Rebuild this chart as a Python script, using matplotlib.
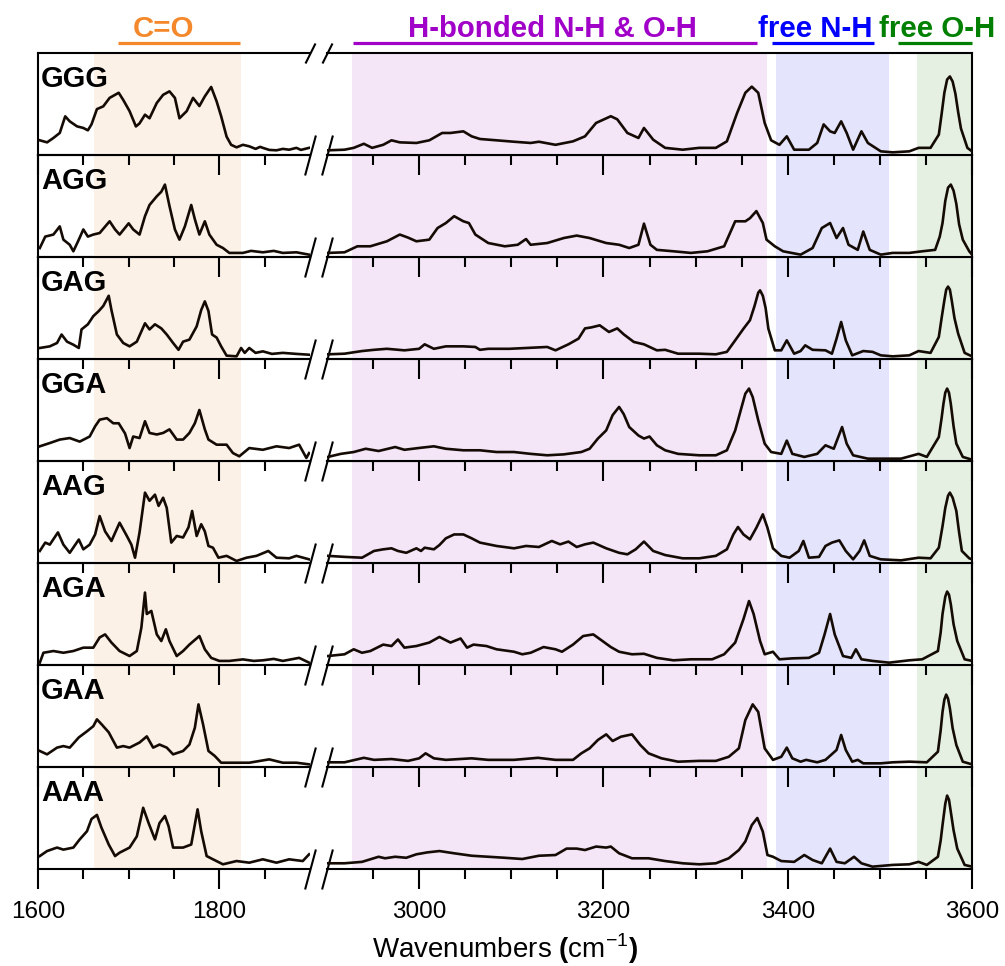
import matplotlib
matplotlib.use("Agg")
import matplotlib.pyplot as plt
from matplotlib.ticker import FixedLocator
from matplotlib.transforms import blended_transform_factory

plt.rcParams['font.family'] = ['Liberation Sans', 'DejaVu Sans']
plt.rcParams['mathtext.fontset'] = 'custom'
plt.rcParams['mathtext.rm'] = 'Liberation Sans'
plt.rcParams['mathtext.bf'] = 'Liberation Sans:bold'

samples = ["GGG", "AGG", "GAG", "GGA", "AAG", "AGA", "GAA", "AAA"]

# ---- C=O region (1600-1900 cm-1), intensity as fraction of panel height ----
ggg_left = [(1602, .144), (1610, .124), (1617, .167), (1624, .216), (1630, .379), (1635, .33), (1643, .281),
            (1650, .265), (1655, .242), (1659, .30), (1665, .45), (1672, .477), (1679, .56), (1689, .61),
            (1694, .54), (1701, .43), (1708, .28), (1712, .31), (1718, .395), (1723, .36), (1731, .51),
            (1738, .59), (1745, .624), (1751, .56), (1756, .36), (1764, .43), (1771, .56), (1778, .48),
            (1784, .575), (1791, .667), (1797, .526), (1802, .38), (1808, .18), (1813, .10), (1819, .075),
            (1826, .10), (1833, .085), (1840, .06), (1845, .08), (1848, .07), (1855, .05), (1863, .046),
            (1870, .06), (1877, .052), (1885, .07), (1890, .05), (1899, .07)]
agg_left = [(1602, .088), (1608, .20), (1617, .22), (1624, .30), (1628, .17), (1635, .12), (1639, .056),
            (1645, .17), (1650, .27), (1655, .20), (1661, .22), (1668, .235), (1679, .35), (1685, .27),
            (1690, .22), (1700, .33), (1705, .27), (1712, .22), (1718, .40), (1723, .51), (1731, .595),
            (1736, .64), (1740, .71), (1745, .50), (1751, .27), (1756, .17), (1762, .30), (1769, .51),
            (1773, .37), (1778, .22), (1784, .35), (1789, .22), (1797, .12), (1804, .088), (1811, .04),
            (1826, .04), (1835, .06), (1848, .046), (1860, .06), (1870, .04), (1885, .046), (1899, .023)]
gag_left = [(1602, .108), (1613, .124), (1621, .157), (1626, .24), (1632, .17), (1639, .14), (1645, .108),
            (1648, .29), (1655, .34), (1661, .42), (1667, .47), (1672, .52), (1678, .62), (1681, .48),
            (1687, .24), (1694, .157), (1701, .124), (1709, .17), (1718, .35), (1723, .29), (1729, .34),
            (1736, .30), (1742, .24), (1749, .157), (1755, .09), (1760, .17), (1767, .19), (1775, .32),
            (1780, .48), (1784, .565), (1788, .47), (1792, .24), (1797, .21), (1802, .124), (1808, .033),
            (1819, .026), (1824, .108), (1828, .06), (1833, .108), (1840, .06), (1848, .075), (1858, .05),
            (1870, .06), (1885, .05), (1899, .042)]
gga_left = [(1602, .144), (1613, .176), (1624, .21), (1635, .225), (1646, .19), (1657, .24), (1663, .34),
            (1668, .405), (1676, .42), (1683, .37), (1689, .37), (1696, .27), (1701, .127), (1705, .24),
            (1712, .225), (1718, .39), (1723, .275), (1731, .26), (1738, .275), (1745, .31), (1753, .21),
            (1760, .21), (1767, .275), (1773, .37), (1778, .50), (1784, .31), (1788, .21), (1797, .16),
            (1808, .16), (1815, .078), (1822, .046), (1833, .127), (1848, .11), (1863, .144), (1877, .127),
            (1888, .16), (1896, .03), (1899, .078)]
aag_left = [(1602, .118), (1608, .20), (1613, .18), (1622, .30), (1628, .18), (1635, .10), (1645, .23),
            (1650, .134), (1657, .18), (1663, .28), (1668, .46), (1674, .31), (1681, .216), (1690, .395),
            (1698, .265), (1703, .18), (1707, .052), (1712, .30), (1718, .69), (1723, .61), (1729, .67),
            (1733, .56), (1738, .64), (1742, .54), (1747, .20), (1753, .265), (1760, .25), (1766, .35),
            (1770, .51), (1775, .265), (1780, .38), (1784, .31), (1788, .167), (1793, .15), (1799, .052),
            (1808, .07), (1819, .02), (1830, .052), (1841, .07), (1854, .118), (1863, .052), (1877, .046),
            (1885, .07), (1899, .036)]
aga_left = [(1602, .023), (1606, .12), (1617, .137), (1628, .12), (1639, .137), (1650, .17), (1661, .17),
            (1668, .27), (1674, .30), (1681, .22), (1690, .137), (1701, .088), (1709, .137), (1714, .366),
            (1718, .71), (1720, .50), (1725, .53), (1731, .30), (1736, .235), (1741, .35), (1745, .235),
            (1753, .088), (1760, .137), (1767, .20), (1778, .284), (1784, .154), (1791, .07), (1800, .04),
            (1811, .04), (1826, .055), (1838, .04), (1848, .046), (1860, .06), (1870, .04), (1888, .07),
            (1899, .023)]
gaa_left = [(1602, .157), (1610, .124), (1621, .19), (1628, .205), (1635, .19), (1645, .29), (1654, .35),
            (1661, .40), (1665, .467), (1670, .42), (1678, .34), (1687, .19), (1694, .205), (1701, .19),
            (1712, .24), (1720, .30), (1727, .19), (1734, .22), (1742, .19), (1749, .124), (1760, .157),
            (1767, .22), (1773, .385), (1777, .614), (1782, .42), (1788, .157), (1795, .108), (1802, .042),
            (1819, .042), (1833, .042), (1855, .075), (1870, .042), (1885, .042), (1899, .026)]
aaa_left = [(1602, .127), (1610, .176), (1621, .21), (1628, .19), (1639, .21), (1646, .29), (1654, .37),
            (1659, .49), (1665, .53), (1670, .405), (1678, .24), (1685, .127), (1690, .16), (1701, .21),
            (1709, .32), (1716, .60), (1722, .45), (1729, .29), (1734, .45), (1740, .52), (1744, .42),
            (1749, .21), (1760, .21), (1769, .24), (1776, .585), (1780, .37), (1786, .127), (1793, .095),
            (1804, .046), (1819, .078), (1833, .062), (1848, .095), (1863, .062), (1877, .095), (1892, .078),
            (1899, .144)]

# ---- N-H / O-H region (2900-3600 cm-1) ----
ggg_right = [(2901, .046), (2919, .052), (2929, .07), (2940, .11), (2949, .07), (2961, .10), (2970, .144),
             (2979, .124), (2997, .118), (3011, .144), (3025, .216), (3034, .216), (3048, .232), (3057, .183),
             (3066, .157), (3084, .144), (3103, .13), (3121, .118), (3130, .13), (3148, .10), (3167, .134),
             (3180, .183), (3192, .314), (3208, .38), (3215, .35), (3226, .216), (3238, .167), (3244, .265),
             (3254, .15), (3267, .07), (3286, .052), (3304, .07), (3322, .07), (3334, .134), (3345, .41),
             (3354, .61), (3361, .67), (3368, .61), (3375, .314), (3382, .144), (3391, .10), (3399, .183),
             (3407, .052), (3423, .052), (3432, .118), (3439, .30), (3446, .232), (3451, .216), (3458, .33),
             (3464, .216), (3471, .052), (3480, .232), (3487, .118), (3501, .036), (3514, .026), (3532, .036),
             (3542, .07), (3555, .07), (3564, .20), (3567, .40), (3570, .61), (3573, .74), (3576, .77),
             (3579, .72), (3582, .60), (3585, .42), (3588, .26), (3595, .07), (3600, .036)]
agg_right = [(2901, .04), (2919, .046), (2933, .105), (2947, .105), (2965, .154), (2979, .22), (2988, .19),
             (2997, .154), (3011, .17), (3020, .284), (3029, .333), (3038, .40), (3048, .35), (3054, .333),
             (3061, .22), (3075, .137), (3093, .105), (3107, .12), (3116, .176), (3121, .12), (3139, .137),
             (3157, .186), (3171, .21), (3185, .186), (3203, .137), (3217, .12), (3228, .088), (3238, .12),
             (3244, .327), (3251, .12), (3258, .07), (3276, .056), (3295, .04), (3313, .056), (3331, .105),
             (3343, .35), (3354, .35), (3359, .38), (3366, .45), (3373, .333), (3377, .17), (3386, .105),
             (3395, .056), (3414, .023), (3427, .088), (3437, .284), (3446, .333), (3453, .186), (3460, .284),
             (3466, .12), (3476, .07), (3482, .25), (3489, .07), (3501, .023), (3514, .04), (3532, .04),
             (3546, .056), (3560, .07), (3565, .20), (3568, .333), (3571, .55), (3574, .68), (3577, .71),
             (3580, .65), (3583, .52), (3586, .32), (3590, .17), (3597, .056), (3600, .023)]
gag_right = [(2901, .046), (2919, .052), (2938, .078), (2951, .09), (2965, .10), (2984, .085), (3000, .10),
             (3006, .144), (3016, .10), (3029, .124), (3048, .124), (3061, .118), (3066, .09), (3075, .10),
             (3098, .10), (3121, .11), (3139, .118), (3148, .085), (3162, .144), (3173, .20), (3180, .30),
             (3187, .31), (3196, .33), (3206, .265), (3215, .30), (3222, .242), (3233, .167), (3244, .144),
             (3258, .085), (3267, .09), (3281, .052), (3304, .052), (3322, .046), (3334, .07), (3343, .183),
             (3352, .297), (3359, .38), (3364, .52), (3368, .65), (3370, .673), (3373, .62), (3376, .50),
             (3379, .297), (3386, .085), (3393, .085), (3399, .183), (3407, .052), (3414, .078), (3419, .134),
             (3427, .09), (3441, .085), (3448, .052), (3453, .20), (3458, .363), (3463, .183), (3470, .036),
             (3482, .078), (3492, .07), (3501, .036), (3514, .026), (3532, .036), (3542, .078), (3555, .06),
             (3564, .216), (3567, .40), (3570, .575), (3572, .68), (3574, .71), (3576, .68), (3578, .575),
             (3581, .40), (3585, .248), (3592, .06), (3600, .026)]
gga_right = [(2901, .04), (2915, .07), (2929, .088), (2942, .12), (2956, .098), (2974, .137), (2984, .11),
             (3002, .13), (3016, .144), (3029, .12), (3048, .105), (3066, .105), (3084, .088), (3103, .088),
             (3121, .07), (3139, .056), (3157, .065), (3176, .088), (3185, .12), (3194, .22), (3203, .30),
             (3210, .45), (3217, .53), (3222, .46), (3228, .333), (3238, .25), (3244, .22), (3250, .24),
             (3258, .154), (3267, .105), (3281, .07), (3304, .056), (3322, .056), (3334, .105), (3343, .30),
             (3350, .53), (3354, .66), (3358, .71), (3362, .627), (3368, .40), (3375, .17), (3382, .088),
             (3393, .07), (3399, .20), (3405, .07), (3418, .04), (3432, .07), (3441, .154), (3450, .12),
             (3459, .333), (3464, .17), (3471, .056), (3487, .023), (3505, .023), (3523, .023), (3542, .07),
             (3551, .04), (3564, .235), (3567, .42), (3569, .56), (3571, .67), (3573, .71), (3575, .67),
             (3577, .56), (3580, .34), (3583, .17), (3590, .04), (3600, .013)]
aag_right = [(2901, .07), (2919, .06), (2938, .052), (2951, .118), (2961, .134), (2970, .144), (2977, .118),
             (2986, .10), (2997, .144), (3002, .118), (3006, .15), (3016, .134), (3022, .176), (3029, .242),
             (3038, .28), (3048, .28), (3057, .242), (3066, .20), (3084, .167), (3103, .144), (3116, .167),
             (3130, .157), (3144, .216), (3153, .183), (3162, .21), (3171, .157), (3180, .183), (3189, .20),
             (3203, .144), (3217, .10), (3226, .085), (3235, .134), (3244, .21), (3254, .118), (3267, .078),
             (3286, .046), (3304, .046), (3322, .07), (3334, .134), (3341, .28), (3346, .353), (3352, .28),
             (3359, .232), (3366, .346), (3373, .477), (3378, .346), (3384, .144), (3393, .07), (3402, .052),
             (3412, .118), (3417, .216), (3423, .052), (3434, .06), (3441, .167), (3448, .20), (3456, .222),
             (3463, .118), (3471, .036), (3478, .118), (3483, .222), (3489, .07), (3501, .036), (3523, .026),
             (3542, .052), (3555, .046), (3564, .15), (3568, .36), (3571, .54), (3574, .66), (3576, .69),
             (3579, .64), (3583, .51), (3586, .30), (3589, .118), (3597, .046), (3600, .036)]
aga_right = [(2901, .088), (2919, .105), (2929, .154), (2938, .12), (2947, .137), (2961, .20), (2970, .186),
             (2977, .25), (2984, .17), (2997, .186), (3011, .22), (3022, .275), (3034, .22), (3045, .26),
             (3052, .17), (3059, .20), (3073, .186), (3084, .154), (3103, .13), (3112, .105), (3121, .12),
             (3135, .176), (3148, .154), (3155, .13), (3167, .20), (3178, .284), (3189, .30), (3199, .235),
             (3208, .176), (3217, .13), (3231, .105), (3244, .11), (3258, .07), (3276, .046), (3295, .056),
             (3318, .056), (3331, .105), (3343, .22), (3352, .45), (3358, .627), (3363, .50), (3370, .235),
             (3375, .105), (3384, .13), (3391, .056), (3405, .065), (3423, .07), (3434, .12), (3440, .30),
             (3446, .50), (3451, .30), (3460, .088), (3469, .07), (3474, .154), (3480, .056), (3492, .04),
             (3510, .023), (3532, .046), (3546, .056), (3563, .137), (3566, .32), (3568, .50), (3571, .67),
             (3573, .72), (3575, .69), (3577, .595), (3580, .40), (3584, .235), (3592, .056), (3600, .04)]
gaa_right = [(2901, .046), (2919, .046), (2940, .09), (2951, .07), (2970, .078), (2988, .06), (3000, .085),
             (3007, .134), (3016, .085), (3029, .07), (3057, .085), (3075, .07), (3103, .07), (3129, .09),
             (3148, .07), (3167, .07), (3176, .134), (3185, .183), (3194, .265), (3203, .32), (3210, .255),
             (3219, .297), (3231, .32), (3240, .216), (3249, .134), (3263, .085), (3281, .052), (3304, .06),
             (3322, .06), (3336, .10), (3347, .183), (3354, .46), (3362, .614), (3368, .54), (3375, .183),
             (3384, .07), (3393, .10), (3399, .19), (3405, .085), (3414, .052), (3420, .07), (3432, .046),
             (3441, .07), (3453, .167), (3458, .314), (3463, .167), (3470, .052), (3476, .07), (3482, .036),
             (3501, .036), (3514, .046), (3532, .052), (3551, .046), (3563, .15), (3566, .36), (3568, .54),
             (3570, .66), (3572, .71), (3574, .67), (3576, .575), (3579, .38), (3583, .216), (3590, .052),
             (3600, .026)]
aaa_right = [(2901, .056), (2919, .056), (2938, .07), (2956, .12), (2963, .105), (2974, .12), (2986, .11),
             (2997, .144), (3009, .163), (3022, .176), (3038, .154), (3057, .13), (3075, .12), (3093, .11),
             (3112, .098), (3130, .13), (3148, .137), (3160, .20), (3171, .20), (3180, .186), (3192, .22),
             (3203, .21), (3208, .22), (3217, .154), (3231, .105), (3249, .105), (3267, .078), (3286, .056),
             (3304, .046), (3322, .056), (3336, .105), (3347, .186), (3354, .27), (3361, .43), (3367, .50),
             (3373, .366), (3378, .137), (3384, .12), (3393, .078), (3407, .07), (3418, .137), (3427, .088),
             (3437, .056), (3446, .20), (3453, .07), (3462, .056), (3472, .12), (3480, .056), (3492, .023),
             (3514, .04), (3532, .046), (3542, .07), (3551, .04), (3563, .12), (3566, .28), (3568, .43),
             (3571, .64), (3573, .72), (3575, .68), (3577, .56), (3580, .38), (3584, .20), (3592, .04),
             (3600, .023)]

left_data = [ggg_left, agg_left, gag_left, gga_left, aag_left, aga_left, gaa_left, aaa_left]
right_data = [ggg_right, agg_right, gag_right, gga_right, aag_right, aga_right, gaa_right, aaa_right]

# shaded regions (cm-1)
co_band = (1662, 1824)
hb_band = (2927, 3378)
nh_band = (3387, 3510)
oh_band = (3540, 3600)

W, H = 1005, 966
top_px, row_px = 53, 102
line_col = '#150b05'

fig = plt.figure(figsize=(W / 100, H / 100), dpi=100)

brk = dict(linestyle='none', color='k', mec='k', mew=1.5, clip_on=False)
top_axes = None
for i, name in enumerate(samples):
    y0 = (H - top_px - row_px * (i + 1)) / H
    axl = fig.add_axes([38 / W, y0, 272 / W, row_px / H], zorder=20 - i)
    axr = fig.add_axes([327 / W, y0, 645 / W, row_px / H], zorder=20 - i)
    for ax in (axl, axr):
        ax.patch.set_visible(False)
        ax.set_ylim(0, 1)
        ax.set_yticks([])
        for s in ax.spines.values():
            s.set_linewidth(1.5)
        ax.tick_params(axis='x', which='major', direction='out', length=14.4, width=1.5,
                       labelsize=17.5, pad=9, labelbottom=(i == len(samples) - 1))
        ax.tick_params(axis='x', which='minor', direction='out', length=7.2, width=1.5)
    axl.spines['right'].set_visible(False)
    axr.spines['left'].set_visible(False)

    axl.set_xlim(1600, 1900)
    axr.set_xlim(2900, 3600)
    axl.xaxis.set_major_locator(FixedLocator([1600, 1800]))
    axl.xaxis.set_minor_locator(FixedLocator([1650, 1700, 1750, 1850]))
    axr.xaxis.set_major_locator(FixedLocator([3000, 3200, 3400, 3600]))
    axr.xaxis.set_minor_locator(FixedLocator([2950, 3050, 3100, 3150, 3250, 3300, 3350, 3450, 3500, 3550]))

    axl.axvspan(*co_band, color='#FCF1E7', lw=0, zorder=0)
    axr.axvspan(*hb_band, color='#F4E6F7', lw=0, zorder=0)
    axr.axvspan(*nh_band, color='#E4E5FC', lw=0, zorder=0)
    axr.axvspan(*oh_band, color='#E5F0E3', lw=0, zorder=0)

    lx, ly = zip(*left_data[i])
    rx, ry = zip(*right_data[i])
    axl.plot(lx, ly, color=line_col, lw=1.9, solid_joinstyle='round', zorder=3)
    axr.plot(rx, ry, color=line_col, lw=1.9, solid_joinstyle='round', zorder=3)

    axl.text(0.011, 0.667, name, transform=axl.transAxes, fontsize=21, fontweight='bold',
             ha='left', va='baseline', zorder=5)

    # axis-break marks
    axl.plot([1], [0], transform=axl.transAxes, marker=[(-0.27, -1), (0.27, 1)], markersize=28.8, **brk)
    axr.plot([0], [0], transform=axr.transAxes, marker=[(-0.27, -1), (0.27, 1)], markersize=28.8, **brk)
    if i == 0:
        axl.plot([1], [1], transform=axl.transAxes, marker=[(-0.5, -1), (0.5, 1)], markersize=14.4, **brk)
        axr.plot([0], [1], transform=axr.transAxes, marker=[(-0.5, -1), (0.5, 1)], markersize=14.4, **brk)
        top_axes = (axl, axr)

# region labels above the top panel
axl, axr = top_axes
y_line, y_text = 1 + 10 / row_px, 1 + 16 / row_px
labels = [(axl, "C=O", 1738, (1688, 1823), '#F5882A'),
          (axr, "H-bonded N-H & O-H", 3145, (2928, 3367), '#A000C8'),
          (axr, "free N-H", 3430, (3383, 3494), '#0000FF'),
          (axr, "free O-H", 3562, (3520, 3600), '#008000')]
for ax, txt, xc, (xa, xb), col in labels:
    tr = blended_transform_factory(ax.transData, ax.transAxes)
    ax.plot([xa, xb], [y_line, y_line], transform=tr, color=col, lw=2.3, clip_on=False,
            solid_capstyle='butt', zorder=1)
    ax.text(xc, y_text, txt, transform=tr, color=col, fontsize=21.2, fontweight='bold',
            ha='center', va='baseline', zorder=6)

fig.text(505 / W, 1 - 958 / H, r"Wavenumbers $\mathbf{(}$cm$^{-1}$$\mathbf{)}$",
         ha='center', va='baseline', fontsize=20)

fig.savefig("out.png", dpi=100)
